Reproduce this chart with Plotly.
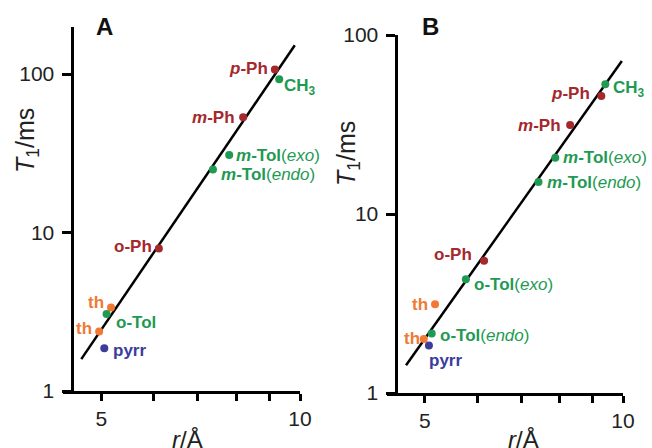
import plotly.graph_objects as go
import math

# ---------------- data ----------------
A_labels = ["<i>p</i>-Ph", "CH<sub>3</sub>", "<i>m</i>-Ph", "<i>m</i>-Tol<span style='font-weight:normal'>(<i>exo</i>)</span>",
            "<i>m</i>-Tol<span style='font-weight:normal'>(<i>endo</i>)</span>", "o-Ph", "th", "o-Tol", "th", "pyrr"]
A_group = ["Ph", "Tol", "Ph", "Tol", "Tol", "Ph", "th", "Tol", "th", "pyrr"]
A_r = [9.16, 9.30, 8.20, 7.81, 7.38, 6.11, 5.17, 5.09, 4.96, 5.05]
A_T1 = [107, 92.6, 53.3, 30.8, 25.0, 7.94, 3.37, 3.06, 2.37, 1.86]
A_fit_r = [4.66, 9.82]
A_fit_T1 = [1.59, 152]

B_labels = ["CH<sub>3</sub>", "<i>p</i>-Ph", "<i>m</i>-Ph", "<i>m</i>-Tol<span style='font-weight:normal'>(<i>exo</i>)</span>",
            "<i>m</i>-Tol<span style='font-weight:normal'>(<i>endo</i>)</span>", "o-Ph",
            "o-Tol<span style='font-weight:normal'>(<i>exo</i>)</span>", "th",
            "o-Tol<span style='font-weight:normal'>(<i>endo</i>)</span>", "th", "pyrr"]
B_group = ["Tol", "Ph", "Ph", "Tol", "Tol", "Ph", "Tol", "th", "Tol", "th", "pyrr"]
B_r = [9.40, 9.27, 8.31, 7.89, 7.44, 6.15, 5.77, 5.18, 5.12, 4.98, 5.07]
B_T1 = [53.0, 45.6, 31.4, 20.6, 15.1, 5.48, 4.32, 3.13, 2.15, 2.00, 1.84]
B_fit_r = [4.68, 9.96]
B_fit_T1 = [1.43, 71.6]

x_tickvals = [5, 10]
x_ticktext = ["5", "10"]
x_minorvals = [6, 7, 8, 9]
y_tickvals = [1, 10, 100]
y_ticktext = ["1", "10", "100"]

# ---------------- styles ----------------
colors = {"Ph": "#a4282c", "Tol": "#1e9a52", "th": "#f07a33", "pyrr": "#3c3c9c"}
# label placement: (side, xshift, yshift)
A_place = [("l", -5, 1), ("r", 3, -8), ("l", -6, 0), ("r", 5, 0), ("r", 6, -5),
           ("l", -5, 2), ("l", -5, 5), ("r", 7, -8), ("l", -5, 3), ("r", 7, -2)]
B_place = [("r", 6, -5), ("l", -9, 3), ("l", -7, 0), ("r", 6, 0), ("r", 6, -1),
           ("l", -10, 6), ("r", 6, -5), ("l", -5, 0), ("r", 6, -2), ("l", -2, 1), ("c", 17, -15)]

W, H = 652, 448
FONT = "Liberation Sans, Arial, sans-serif"

fig = go.Figure()

def add_panel(xa, ya, r, t, groups, labels, places, fr, ft):
    fig.add_trace(go.Scatter(x=fr, y=ft, mode="lines", line=dict(color="black", width=2.5),
                             xaxis=xa, yaxis=ya, showlegend=False, hoverinfo="skip"))
    fig.add_trace(go.Scatter(x=r, y=t, mode="markers",
                             marker=dict(color=[colors[g] for g in groups], size=8),
                             xaxis=xa, yaxis=ya, showlegend=False))
    for xi, yi, g, lab, (side, dx, dy) in zip(r, t, groups, labels, places):
        anchor = {"l": "right", "r": "left", "c": "center"}[side]
        fig.add_annotation(x=math.log10(xi), y=math.log10(yi), xref=xa, yref=ya,
                           text="<b>" + lab + "</b>", showarrow=False,
                           xanchor=anchor, yanchor="middle", xshift=dx, yshift=dy,
                           font=dict(family=FONT, size=17, color=colors[g]))

add_panel("x", "y", A_r, A_T1, A_group, A_labels, A_place, A_fit_r, A_fit_T1)
add_panel("x2", "y2", B_r, B_T1, B_group, B_labels, B_place, B_fit_r, B_fit_T1)

axis_common = dict(type="log", showgrid=False, zeroline=False, showline=True, automargin=False,
                   linecolor="black", linewidth=3, ticks="outside", tickwidth=3,
                   tickcolor="black", ticklen=7,
                   tickfont=dict(family=FONT, size=21, color="#222"))
minor_x = dict(tickmode="array", tickvals=x_minorvals, ticks="outside", ticklen=7,
               tickwidth=3, tickcolor="black", showgrid=False)

fig.update_layout(
    width=W, height=H, margin=dict(l=0, r=0, t=0, b=0, autoexpand=False),
    paper_bgcolor="white", plot_bgcolor="white",
    xaxis=dict(axis_common, domain=[63 / W, 300 / W], range=[0.6407, 1.0], anchor="y",
               tickvals=x_tickvals, ticktext=x_ticktext, minor=minor_x),
    yaxis=dict(axis_common, domain=[1 - 391 / H, 1 - 27 / H], range=[0, 2.297],
               anchor="free", position=71.5 / W, tickvals=y_tickvals, ticktext=y_ticktext,
               ticklen=9, ticklabelstandoff=3),
    xaxis2=dict(axis_common, domain=[387 / W, 623 / W], range=[0.6413, 1.0], anchor="y2",
                tickvals=x_tickvals, ticktext=x_ticktext, minor=minor_x),
    yaxis2=dict(axis_common, domain=[1 - 393 / H, 1 - 35 / H], range=[0, 2.0],
                anchor="free", position=395.5 / W, tickvals=y_tickvals, ticktext=y_ticktext,
                ticklen=9, ticklabelstandoff=3),
)

# panel letters
for txt, px, py in [("A", 104, 26), ("B", 430, 26)]:
    fig.add_annotation(x=px / W, y=1 - py / H, xref="paper", yref="paper", text="<b>" + txt + "</b>",
                       showarrow=False, xanchor="center", yanchor="middle",
                       font=dict(family=FONT, size=24, color="#111"))
# axis titles
for px in [187, 523]:
    fig.add_annotation(x=px / W, y=1 - 424 / H, xref="paper", yref="paper", text="<i>r</i>/Å",
                       showarrow=False, xanchor="center", yanchor="top",
                       font=dict(family=FONT, size=24, color="#222"))
for px, py in [(27, 140), (348, 154)]:
    fig.add_annotation(x=px / W, y=1 - py / H, xref="paper", yref="paper",
                       text="<i>T</i><sub>1</sub>/ms", textangle=-90,
                       showarrow=False, xanchor="center", yanchor="middle",
                       font=dict(family=FONT, size=25, color="#222"))

fig.write_html("out.html")
